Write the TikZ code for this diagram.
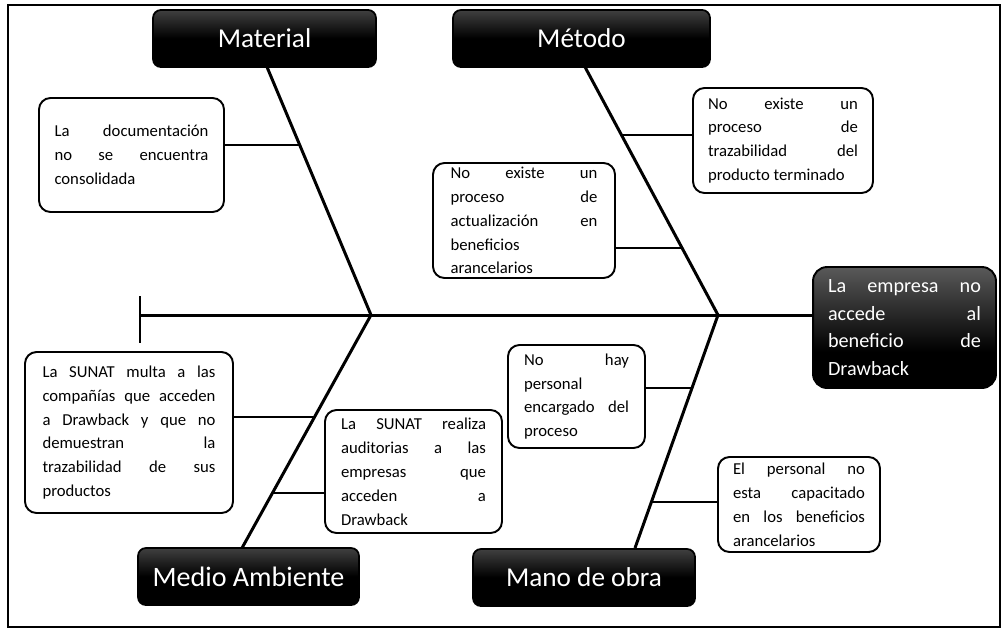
\documentclass[tikz,border=0pt]{standalone}
\usepackage{fontspec}
\setmainfont{Carlito}
\usetikzlibrary{calc}
\pgfdeclareverticalshading{hdrshade}{100bp}{color(0bp)=(black); color(50bp)=(black); color(80bp)=(black!70); color(100bp)=(black!50)}
\pgfdeclareverticalshading{effshade}{100bp}{color(0bp)=(black); color(40bp)=(black); color(75bp)=(black!65); color(100bp)=(black!45)}
\newcommand\jl[1]{\makebox[\linewidth][s]{#1}}
\newcommand\bx[2]{\parbox{#1}{\fontsize{9.5}{13.6}\selectfont #2}}
\newcommand\ebx[2]{\parbox{#1}{\fontsize{11.5}{15.8}\selectfont #2}}
\tikzset{
  causebox/.style={draw=black, line width=1.1pt, rounded corners=6.5pt, fill=white, inner sep=0pt},
  header/.style={draw=black, line width=1pt, rounded corners=4.5pt, shading=hdrshade, text=white, inner sep=0pt, minimum height=1.14cm},
  effbox/.style={draw=black, line width=1.1pt, rounded corners=8pt, shading=effshade, text=white, inner sep=0pt},
  bone/.style={line width=1.7pt},
  twig/.style={line width=1.1pt},
  frame/.style={line width=1pt}
}
\begin{document}
\begin{tikzpicture}[x=0.02cm,y=-0.02cm]
\useasboundingbox (0,0) rectangle (1006,629);
\draw[frame] (8,5) rectangle (1000,627);

% headers
\node[header, minimum width=4.46cm, font=\fontsize{15.5}{18}\selectfont] (mat) at (264.5,38.5) {Material};
\node[header, minimum width=5.14cm, font=\fontsize{15.5}{18}\selectfont] (met) at (581.5,38.5) {Método};
\node[header, minimum width=4.42cm, font=\fontsize{16}{18}\selectfont] (med) at (248.5,576.5) {Medio Ambiente};
\node[header, minimum width=4.44cm, font=\fontsize{15.5}{18}\selectfont] (man) at (584,577.5) {Mano de obra};

% effect
\node[effbox, minimum width=3.66cm, minimum height=2.42cm] (eff) at (904.5,327.5)
  {\ebx{3.06cm}{\jl{La empresa no}\\\jl{accede al}\\\jl{beneficio de}\\Drawback}};

% spine
\coordinate (tail) at (140,315);
\coordinate (tailT) at (140,296);
\coordinate (tailB) at (140,343);
\coordinate (J1) at (371,315);
\coordinate (J2) at (718,315);
\draw[bone] (tailT) -- (tailB);
\draw[bone] (tail) -- (eff.west |- tail);

% bones
\coordinate (matT) at (267,67);
\coordinate (metT) at (585,67);
\coordinate (medB) at (242,548);
\coordinate (manB) at (635,548);
\draw[bone] (matT) -- (J1);
\draw[bone] (metT) -- (J2);
\draw[bone] (J1) -- (medB);
\draw[bone] (J2) -- (manB);

% cause boxes
\node[causebox, minimum width=3.70cm, minimum height=2.28cm] (b1) at (131.5,155)
  {\bx{3.08cm}{\jl{La documentación}\\\jl{no se encuentra}\\consolidada}};
\node[causebox, minimum width=3.64cm, minimum height=2.30cm] (b2) at (524,220.5)
  {\bx{2.94cm}{\jl{No existe un}\\\jl{proceso de}\\\jl{actualización en}\\beneficios\\arancelarios}};
\node[causebox, minimum width=3.60cm, minimum height=2.10cm] (b3) at (783,140.5)
  {\bx{3.00cm}{\jl{No existe un}\\\jl{proceso de}\\\jl{trazabilidad del}\\producto terminado}};
\node[causebox, minimum width=4.16cm, minimum height=3.22cm] (b4) at (129,432.5)
  {\bx{3.46cm}{\jl{La SUNAT multa a las}\\\jl{compañías que acceden}\\\jl{a Drawback y que no}\\\jl{demuestran la}\\\jl{trazabilidad de sus}\\productos}};
\node[causebox, minimum width=3.54cm, minimum height=2.46cm] (b5) at (413.5,471.5)
  {\bx{2.90cm}{\jl{La SUNAT realiza}\\\jl{auditorias a las}\\\jl{empresas que}\\\jl{acceden a}\\Drawback}};
\node[causebox, minimum width=2.74cm, minimum height=2.06cm] (b6) at (576.5,396.5)
  {\bx{2.10cm}{\jl{No hay}\\personal\\\jl{encargado del}\\proceso}};
\node[causebox, minimum width=3.24cm, minimum height=1.90cm] (b7) at (799,504.5)
  {\bx{2.64cm}{\jl{El personal no}\\\jl{esta capacitado}\\\jl{en los beneficios}\\arancelarios}};

% twigs
\coordinate (k1) at ($(matT)!0.315!(J1)$);
\coordinate (k3) at ($(metT)!0.274!(J2)$);
\coordinate (k2) at ($(metT)!0.73!(J2)$);
\coordinate (k4) at ($(J1)!0.438!(medB)$);
\coordinate (k5) at ($(J1)!0.764!(medB)$);
\coordinate (k6) at ($(J2)!0.313!(manB)$);
\coordinate (k7) at ($(J2)!0.803!(manB)$);
\draw[twig] (k1) -- (k1 -| b1.east);
\draw[twig] (k2) -- (k2 -| b2.east);
\draw[twig] (k3) -- (k3 -| b3.west);
\draw[twig] (k4) -- (k4 -| b4.east);
\draw[twig] (k5) -- (k5 -| b5.west);
\draw[twig] (k6) -- (k6 -| b6.east);
\draw[twig] (k7) -- (k7 -| b7.west);
\end{tikzpicture}
\end{document}
